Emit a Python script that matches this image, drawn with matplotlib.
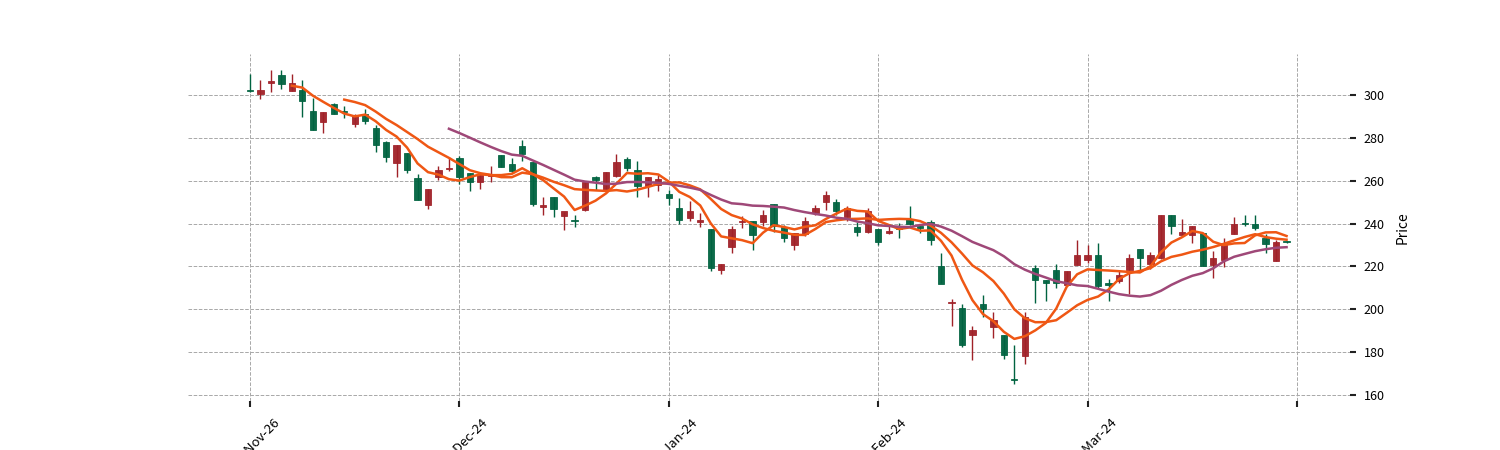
import numpy as np
import pandas as pd
import matplotlib
matplotlib.use('Agg')
import matplotlib.pyplot as plt

plt.rcParams['font.family'] = ['Noto Sans CJK SC', 'DejaVu Sans']
plt.rcParams['axes.unicode_minus'] = False

# daily OHLC
opens = [302.2, 300.6, 305.4, 309.3, 301.6, 302.3, 292.7, 287.2, 295.8, 292.6,
         286.5, 291.0, 284.4, 278.2, 268.4, 273.1, 261.4, 248.4, 261.7, 265.5,
         270.8, 263.5, 259.2, 262.4, 272.1, 267.9, 276.0, 268.5, 247.5, 252.2,
         243.3, 241.7, 246.4, 261.5, 255.4, 262.3, 270.0, 264.8, 257.6, 258.1,
         253.8, 247.2, 242.6, 240.6, 237.4, 218.5, 228.9, 240.7, 241.0, 240.7,
         249.1, 238.2, 229.8, 235.1, 244.9, 249.9, 249.9, 243.0, 238.4, 235.9,
         237.3, 235.6, 238.4, 242.3, 238.8, 240.6, 220.1, 202.7, 200.7, 187.9,
         202.5, 191.8, 187.9, 167.5, 178.1, 219.0, 213.6, 218.1, 211.5, 220.6,
         222.8, 225.1, 212.3, 213.4, 218.2, 227.9, 220.9, 224.0, 244.2, 234.7,
         234.6, 235.6, 220.6, 223.2, 234.9, 240.2, 240.0, 233.3, 222.7, 231.6]
highs = [309.6, 306.8, 311.5, 311.5, 310.0, 307.2, 298.4, 292.2, 296.1, 295.0,
         291.1, 293.3, 286.0, 278.5, 276.7, 273.1, 263.1, 256.3, 266.6, 270.8,
         271.6, 263.5, 262.7, 266.6, 272.1, 270.5, 279.2, 268.5, 252.2, 252.6,
         245.6, 244.1, 259.3, 262.4, 263.8, 272.5, 271.0, 269.0, 261.6, 262.7,
         255.8, 251.9, 250.4, 244.9, 237.4, 221.3, 238.7, 243.4, 241.0, 246.5,
         249.1, 239.5, 235.6, 243.0, 248.5, 255.3, 251.4, 248.0, 240.7, 247.2,
         237.5, 239.8, 240.3, 248.1, 239.8, 241.4, 226.0, 204.9, 202.5, 192.1,
         206.6, 198.6, 187.9, 183.5, 198.8, 220.4, 213.6, 221.3, 217.8, 232.2,
         230.2, 231.0, 214.3, 217.8, 225.8, 227.9, 226.8, 243.9, 244.2, 242.2,
         238.8, 235.6, 227.1, 233.3, 243.0, 244.2, 243.9, 235.2, 232.2, 231.6]
lows = [301.2, 298.1, 301.2, 302.6, 301.6, 289.6, 283.7, 282.1, 291.0, 289.1,
        284.8, 286.3, 273.2, 268.6, 261.6, 263.5, 251.0, 246.8, 260.3, 264.5,
        258.4, 255.0, 256.2, 259.3, 266.2, 263.5, 269.3, 248.3, 244.1, 242.8,
        237.1, 238.2, 245.9, 255.4, 255.0, 261.6, 264.6, 252.6, 252.6, 255.0,
        248.8, 239.8, 241.3, 238.4, 218.0, 216.5, 226.3, 237.9, 227.8, 238.7,
        236.0, 231.4, 227.8, 234.3, 244.1, 246.5, 244.1, 241.0, 234.3, 235.6,
        230.0, 235.3, 233.3, 239.2, 235.6, 230.2, 212.0, 192.1, 182.5, 176.2,
        196.3, 186.7, 176.9, 165.2, 174.5, 203.0, 203.8, 210.0, 210.8, 220.6,
        221.4, 210.0, 203.8, 212.0, 206.9, 218.5, 218.8, 223.5, 234.9, 234.4,
        230.7, 220.1, 214.7, 219.6, 234.9, 238.8, 237.2, 226.3, 222.7, 231.0]
closes = [301.8, 302.5, 306.7, 305.1, 305.4, 297.4, 283.7, 292.2, 291.1, 292.2,
          290.7, 287.9, 276.7, 270.8, 276.7, 265.0, 251.0, 256.3, 265.0, 266.1,
          261.7, 259.3, 262.7, 263.0, 266.2, 264.6, 272.4, 249.2, 248.7, 246.9,
          245.6, 241.1, 259.3, 260.4, 263.8, 268.5, 265.8, 257.6, 261.6, 260.9,
          251.9, 241.8, 245.7, 241.8, 219.3, 221.3, 237.4, 241.3, 234.8, 243.8,
          238.7, 233.3, 235.6, 241.0, 247.2, 253.5, 245.7, 247.2, 235.9, 245.7,
          231.6, 236.3, 237.5, 239.8, 238.0, 232.2, 212.0, 203.3, 183.5, 190.1,
          199.9, 195.2, 178.6, 166.9, 196.3, 213.6, 212.3, 212.3, 217.8, 225.5,
          225.1, 210.8, 211.1, 216.2, 223.7, 224.0, 225.1, 243.9, 238.8, 236.0,
          238.8, 220.1, 223.7, 231.0, 240.0, 239.7, 238.0, 230.5, 231.4, 231.2]

tick_pos = [0, 20, 40, 60, 80, 100]
tick_labels = ['2023-Nov-26', '2023-Dec-24', '2024-Jan-24', '2024-Feb-24', '2024-Mar-24', '']
mav_periods = [5, 10, 20]
mav_colors = ['#ef5714', '#ef5714', '#9f4878']

up_color = '#a02128'
down_color = '#006340'

df = pd.DataFrame({'Open': opens, 'High': highs, 'Low': lows, 'Close': closes})
x = np.arange(len(df))
up = df['Close'] >= df['Open']
colors = np.where(up, up_color, down_color)

fig = plt.figure(figsize=(15, 4.5), dpi=100)
ax = fig.add_subplot(111)

ax.vlines(x, df['Low'], df['High'], colors=colors, linewidth=1.0, zorder=2)
body_low = np.minimum(df['Open'], df['Close'])
body_h = np.abs(df['Close'] - df['Open'])
body_h = np.maximum(body_h, 0.35)
ax.bar(x, body_h, bottom=body_low, width=0.6, color=colors, edgecolor=colors,
       linewidth=0.6, alpha=0.95, zorder=3)

for p, c in zip(mav_periods, mav_colors):
    ma = df['Close'].rolling(p).mean()
    ax.plot(x, ma, color=c, linewidth=1.8, zorder=4)

ax.set_xlim(-5.97, 105.06)
ax.set_ylim(157.4, 319.1)
ax.set_xticks(tick_pos)
ax.set_xticklabels(tick_labels, rotation=45, fontsize=9.5)
ax.set_yticks(np.arange(160, 301, 20))
ax.yaxis.tick_right()
ax.yaxis.set_label_position('right')
ax.set_ylabel('Price', fontsize=10, labelpad=8)
ax.tick_params(axis='y', labelsize=9, length=4, width=1.5, color='#222222', pad=6)
ax.tick_params(axis='x', length=4, width=1.5, color='#222222', pad=7)
for s in ax.spines.values():
    s.set_visible(False)
ax.grid(True, linestyle='--', color='#a8a8a8', linewidth=0.7)
ax.set_axisbelow(True)

fig.savefig('out.png', dpi=100)
